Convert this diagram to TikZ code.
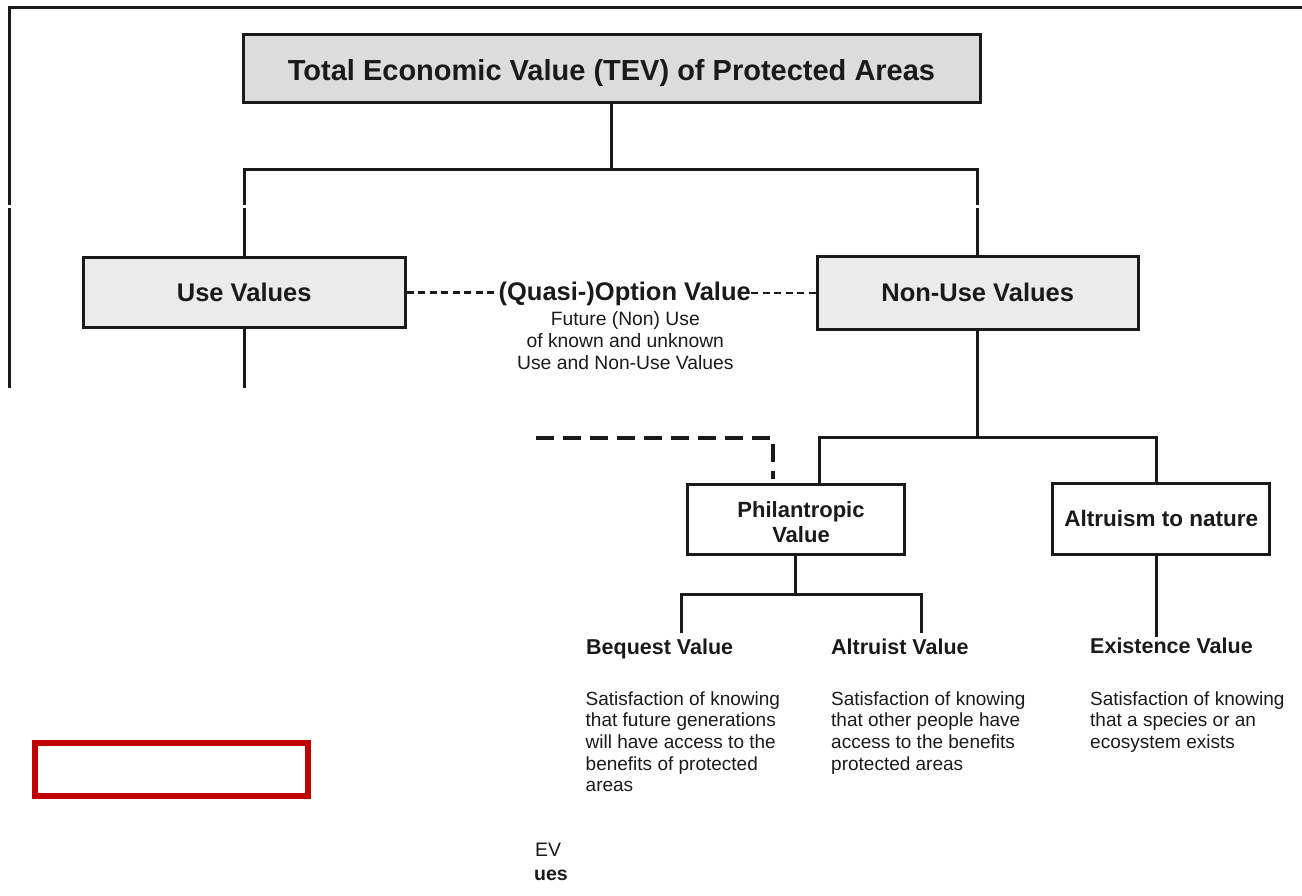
\documentclass[tikz,border=0pt]{standalone}
\usepackage{fontspec}
\setmainfont{Liberation Sans}
\definecolor{ink}{HTML}{1A1A1A}
\definecolor{tevfill}{HTML}{DCDCDC}
\definecolor{boxfill}{HTML}{EBEBEB}
\definecolor{redline}{HTML}{C00000}
\tikzset{
  conn/.style={draw=ink, line width=3pt},
  box/.style={draw=ink, line width=3pt, inner sep=0pt, text=ink},
  optdash/.style={draw=ink, line width=2.6pt, dash pattern=on 7pt off 4.5pt},
  bigdash/.style={draw=ink, line width=4pt, dash pattern=on 18pt off 9pt},
  framestyle/.style={draw=ink, line width=2.6pt},
  lbl/.style={inner sep=0pt, text=ink, anchor=base west, font=\fontsize{21.5}{25}\selectfont\bfseries},
  desc/.style={inner sep=0pt, text=ink, align=left, anchor=base west, font=\fontsize{19}{21.7}\selectfont},
}
\begin{document}
\begin{tikzpicture}[x=1pt,y=-1pt]
\useasboundingbox (0,0) rectangle (1302,896);

% frame
\coordinate (fr1) at (9.3,388);
\coordinate (fr2) at (9.3,7.3);
\coordinate (fr3) at (1306,7.3);
\draw[framestyle] (fr1) -- (fr2) -- (fr3);

% boxes
\node[box, fill=tevfill, minimum width=737pt, minimum height=68pt, text height=23.4pt, text depth=0pt,
      font=\fontsize{29}{34}\selectfont\bfseries] (tev) at (611.5,69) {Total Economic Value (TEV) of Protected Areas};
\node[box, fill=boxfill, minimum width=321.7pt, minimum height=70pt, text height=18pt, text depth=0pt,
      font=\fontsize{25.5}{30}\selectfont\bfseries] (use) at (244.2,292.7) {Use Values};
\node[box, fill=boxfill, minimum width=321.3pt, minimum height=72pt, text height=17.4pt, text depth=0pt,
      font=\fontsize{25.5}{30}\selectfont\bfseries] (nonuse) at (977.7,293) {Non-Use Values};

\node[inner sep=0pt, anchor=base, text=ink, font=\fontsize{25.5}{30}\selectfont\bfseries] (opt) at (624.7,300.7) {(Quasi-)Option Value};
\node[inner sep=0pt, anchor=base, align=center, text=ink, font=\fontsize{19.3}{22}\selectfont] (optsub) at (625.3,369)
  {Future (Non) Use\\of known and unknown\\Use and Non-Use Values};

\node[box, fill=white, minimum width=217pt, minimum height=70pt, align=center, text height=47.4pt, text depth=0pt,
      font=\fontsize{22}{25.4}\selectfont\bfseries] (phil) at (795.5,519) {\hspace*{11pt}Philantropic\\\hspace*{11pt}Value};
\node[box, fill=white, minimum width=217.3pt, minimum height=71pt, text height=15.8pt, text depth=0pt,
      font=\fontsize{22.5}{26}\selectfont\bfseries] (altr) at (1161.3,518.8) {Altruism to nature};

% labels
\node[lbl] (beq) at (586,654) {Bequest Value};
\node[lbl] (altv) at (831,654) {Altruist Value};
\node[lbl] (exv) at (1090,653.3) {Existence Value};

\node[desc] (beqd) at (585.5,791.8) {Satisfaction of knowing\\that future generations\\will have access to the\\benefits of protected\\areas};
\node[desc] (altvd) at (831,770.1) {Satisfaction of knowing\\that other people have\\access to the benefits\\protected areas};
\node[desc] (exvd) at (1090,748.4) {Satisfaction of knowing\\that a species or an\\ecosystem exists};

% connectors
\coordinate (j1) at (611.5,170);
\draw[conn] (tev.south) -- (j1);
\draw[conn] (use.north) |- (j1) -| (nonuse.north);
\coordinate (usecut) at (244.2,388);
\draw[conn] (use.south) -- (usecut);

\draw[optdash] (use.east) -- (use.east -| opt.west);
\draw[optdash] (opt.east |- nonuse.west) -- (nonuse.west);

\coordinate (j2) at (977.7,437.3);
\draw[conn] (nonuse.south) -- (j2);
\draw[conn] ([xshift=24pt]phil.north) |- (j2) -| ([xshift=-5.3pt]altr.north);

\coordinate (dstart) at (536,437.7);
\draw[bigdash] (dstart) -| ([xshift=-22.5pt,yshift=4pt]phil.north);

\coordinate (j3) at (795.5,594.5);
\draw[conn] (phil.south) -- (j3);
\coordinate (bq) at (681.5,633.3);
\coordinate (av) at (921.7,633.3);
\draw[conn] (bq) |- (j3) -| (av);
\coordinate (ex) at (1156,636.7);
\draw[conn] ([xshift=-5.3pt]altr.south) -- (ex);

% white cut across the upper lines
\fill[white] (0,205) rectangle (982,208.3);

% red box and stray text
\node[draw=redline, line width=6pt, minimum width=273pt, minimum height=52.5pt, inner sep=0pt] (redbox) at (171.2,769.5) {};
\node[inner sep=0pt, anchor=base west, text=ink, font=\fontsize{19.5}{22}\selectfont] (evtxt) at (535,856.7) {EV};
\node[inner sep=0pt, anchor=base west, text=ink, font=\fontsize{19.5}{22}\selectfont\bfseries] (uestxt) at (534,880) {ues};
\end{tikzpicture}
\end{document}
